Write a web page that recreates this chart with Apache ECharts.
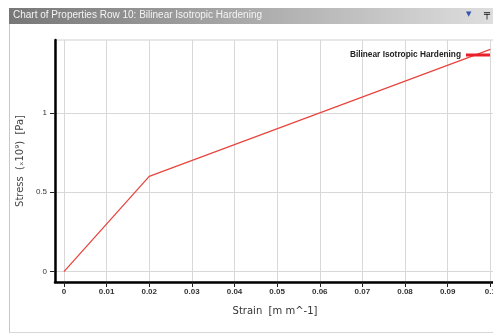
<!DOCTYPE html>
<html><head><meta charset="utf-8">
<script src="https://cdn.jsdelivr.net/npm/echarts@6/dist/echarts.min.js"></script>
<style>html,body{margin:0;padding:0;background:#fff}#c{width:493px;height:334px}</style>
</head><body><div id="c"></div>
<script>
const strain = [0, 0.02, 0.1];
const stress = [0, 0.6, 1.4];
const xTicks = [0, 0.01, 0.02, 0.03, 0.04, 0.05, 0.06, 0.07, 0.08, 0.09, 0.1];
const yTicks = [0, 0.5, 1];
const seriesName = 'Bilinear Isotropic Hardening';
const panelTitle = 'Chart of Properties Row 10: Bilinear Isotropic Hardening';

const chart = echarts.init(document.getElementById('c'));
chart.setOption({
  animation: false,
  textStyle: {fontFamily: 'Liberation Sans'},
  graphic: [
    {type: 'rect', shape: {x: 9, y: 8, width: 484, height: 16}, style: {fill: new echarts.graphic.LinearGradient(0,0,1,0,[{offset:0,color:'#777'},{offset:1,color:'#dedede'}])}},
    {type: 'text', x: 13, y: 10, style: {text: panelTitle, fill: '#f4f4f4', font: '10px "Liberation Sans Narrow", "Liberation Sans"'}},
    {type: 'text', x: 466, y: 11, style: {text: '▼', fill: '#3355aa', font: '7px "DejaVu Sans"'}},
    {type: 'text', x: 484, y: 9, style: {text: '╤', fill: '#111', font: 'bold 10px "DejaVu Sans"'}},
    {type: 'line', shape: {x1: 9.5, y1: 24, x2: 9.5, y2: 332}, style: {stroke: '#c8c8c8', lineWidth: 1}},
    {type: 'line', shape: {x1: 9, y1: 332.5, x2: 493, y2: 332.5}, style: {stroke: '#d8d8d8', lineWidth: 1}}
  ],
  grid: {left: 55, top: 40, width: 440, height: 242, outerBoundsMode: 'none', containLabel: false, show: true, borderColor: '#d0d0d0', borderWidth: 1},
  legend: {
    right: 3, top: 51, padding: 0, align: 'right', icon: 'rect', itemWidth: 24, itemHeight: 3, itemGap: 4,
    textStyle: {fontSize: 8.3, fontWeight: 'bold', color: '#222', fontFamily: 'Liberation Sans'},
    data: [seriesName]
  },
  xAxis: {
    type: 'value', min: -0.0021, max: 0.1011,
    name: 'Strain  [m m^-1]', nameLocation: 'middle', nameGap: 24,
    nameTextStyle: {fontSize: 10, color: '#333', fontFamily: 'DejaVu Sans'},
    axisLine: {show: true, onZero: false, lineStyle: {color: '#000', width: 2.5}},
    axisTick: {show: true, length: 5, lineStyle: {color: '#222'}, customValues: xTicks},
    axisLabel: {fontSize: 8, fontWeight: 'bold', color: '#333', margin: 6, customValues: xTicks,
      formatter: v => String(Math.round(v*1000)/1000)},
    splitLine: {show: true, lineStyle: {color: '#d8d8d8', width: 1}}
  },
  yAxis: {
    type: 'value', min: -0.065, max: 1.459,
    name: 'Stress  (ₓ10⁹)  [Pa]', nameLocation: 'middle', nameGap: 27,
    nameTextStyle: {fontSize: 10, color: '#444', fontFamily: 'DejaVu Sans'},
    axisLine: {show: true, onZero: false, lineStyle: {color: '#000', width: 2.5}},
    axisTick: {show: true, length: 5, lineStyle: {color: '#222'}, customValues: yTicks},
    axisLabel: {fontSize: 8, color: '#333', margin: 8, customValues: yTicks,
      formatter: v => String(Math.round(v*10)/10)},
    splitLine: {show: true, lineStyle: {color: '#d8d8d8', width: 1}}
  },
  series: [{
    name: seriesName, type: 'line', data: strain.map((x,i)=>[x, stress[i]]),
    symbol: 'none', lineStyle: {color: '#e8453f', width: 1.3}, itemStyle: {color: '#e8202a'}
  }]
});
</script></body></html>
